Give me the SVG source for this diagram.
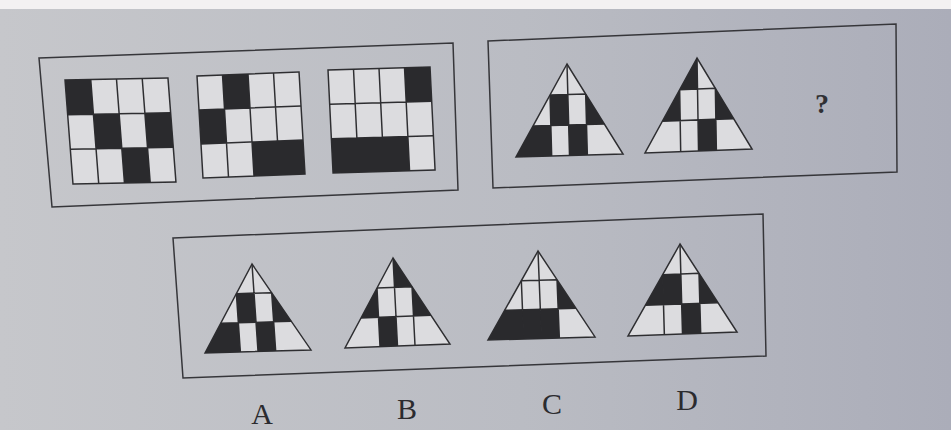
<svg xmlns="http://www.w3.org/2000/svg" xmlns:xlink="http://www.w3.org/1999/xlink" width="951" height="430" viewBox="0 0 951 430">
<style>
.frame{fill:none;stroke:#36363a;stroke-width:1.5;stroke-linejoin:miter}
.cell{fill:#dcdcdf}
.blk{fill:#2a2a2d}
.lines{fill:none;stroke:#2e2e31;stroke-width:1.5;stroke-linejoin:miter}
.lbl{font-family:"Liberation Serif","Times New Roman",serif;font-size:30px;fill:#2b2b2f;text-anchor:middle}
.q{font-family:"Liberation Serif","Times New Roman",serif;font-size:28px;fill:#303034;text-anchor:middle;font-weight:bold}
</style>
<defs>
<linearGradient id="bg" x1="0" y1="0" x2="1" y2="0">
<stop offset="0" stop-color="#c6c7cb"/>
<stop offset="0.55" stop-color="#babcc3"/>
<stop offset="1" stop-color="#abadb9"/>
</linearGradient>
<g id="gridLines" class="lines">
<rect x="0" y="0" width="104" height="105"/>
<path d="M26,0V105M52,0V105M78,0V105M0,35H104M0,70H104"/>
</g>
<polygon id="triBase" points="0,0 -54,90 54,90" class="cell"/>
<g id="triLines" class="lines">
<polygon points="0,0 -54,90 54,90"/>
<path d="M-18,30H18M-36,60H36M0,0V90M-18,30V90M18,30V90"/>
</g>
<polygon id="TL" points="0,0 -18,30 0,30"/>
<polygon id="TR" points="0,0 0,30 18,30"/>
<polygon id="MLO" points="-18,30 -36,60 -18,60"/>
<polygon id="ML" points="-18,30 0,30 0,60 -18,60"/>
<polygon id="MR" points="0,30 18,30 18,60 0,60"/>
<polygon id="MRO" points="18,30 18,60 36,60"/>
<polygon id="BLO" points="-36,60 -54,90 -18,90 -18,60"/>
<polygon id="BL" points="-18,60 0,60 0,90 -18,90"/>
<polygon id="BR" points="0,60 18,60 18,90 0,90"/>
<polygon id="BRO" points="18,60 18,90 54,90 36,60"/>
</defs>
<rect x="0" y="0" width="951" height="430" fill="url(#bg)"/>
<rect x="0" y="0" width="951" height="9" fill="#f3f1f2"/>

<g id="box-left">
<polygon class="frame" points="39,58 453,43 458,190 52,207"/>
</g>
<g id="box-right">
<polygon class="frame" points="488,41 896,24 897,172 493,188"/>
</g>
<g id="box-options">
<polygon class="frame" points="173,238 763,214 766,356 183,378"/>
</g>

<g id="grid-1" transform="matrix(0.990,-0.019,0.076,0.990,65,80)">
<rect x="0" y="0" width="104" height="105" class="cell"/>
<use xlink:href="#gridLines"/>
<rect class="blk" x="0" y="0" width="26" height="35"/>
<rect class="blk" x="26" y="35" width="26" height="35"/>
<rect class="blk" x="78" y="35" width="26" height="35"/>
<rect class="blk" x="52" y="70" width="26" height="35"/>
</g>
<g id="grid-2" transform="matrix(0.981,-0.038,0.057,0.971,197,76)">
<rect x="0" y="0" width="104" height="105" class="cell"/>
<use xlink:href="#gridLines"/>
<rect class="blk" x="26" y="0" width="26" height="35"/>
<rect class="blk" x="0" y="35" width="26" height="35"/>
<rect class="blk" x="52" y="70" width="52" height="35"/>
</g>
<g id="grid-3" transform="matrix(0.981,-0.029,0.048,0.981,328,70)">
<rect x="0" y="0" width="104" height="105" class="cell"/>
<use xlink:href="#gridLines"/>
<rect class="blk" x="78" y="0" width="26" height="35"/>
<rect class="blk" x="0" y="70" width="78" height="35"/>
</g>

<g id="tri-q1" transform="matrix(0.991,-0.028,0.028,1.017,567,64)">
<use xlink:href="#triBase"/>
<use xlink:href="#triLines"/>
<use xlink:href="#ML" class="blk"/><use xlink:href="#MRO" class="blk"/><use xlink:href="#BLO" class="blk"/><use xlink:href="#BR" class="blk"/>
</g>
<g id="tri-q2" transform="matrix(0.991,-0.037,0.017,1.033,697,58)">
<use xlink:href="#triBase"/>
<use xlink:href="#triLines"/>
<use xlink:href="#TL" class="blk"/><use xlink:href="#MLO" class="blk"/><use xlink:href="#MRO" class="blk"/><use xlink:href="#BR" class="blk"/>
</g>
<g id="question">
<text class="q" x="822" y="113">?</text>
</g>

<g id="tri-A" transform="matrix(0.981,-0.028,0.067,0.972,252,264)">
<use xlink:href="#triBase"/>
<use xlink:href="#triLines"/>
<use xlink:href="#ML" class="blk"/><use xlink:href="#MRO" class="blk"/><use xlink:href="#BLO" class="blk"/><use xlink:href="#BR" class="blk"/>
</g>
<g id="tri-B" transform="matrix(0.972,-0.037,0.05,0.978,393,258)">
<use xlink:href="#triBase"/>
<use xlink:href="#triLines"/>
<use xlink:href="#TR" class="blk"/><use xlink:href="#MLO" class="blk"/><use xlink:href="#MRO" class="blk"/><use xlink:href="#BL" class="blk"/>
</g>
<g id="tri-C" transform="matrix(0.991,-0.028,0.039,0.972,538,251)">
<use xlink:href="#triBase"/>
<use xlink:href="#triLines"/>
<use xlink:href="#MRO" class="blk"/><use xlink:href="#BLO" class="blk"/><use xlink:href="#BL" class="blk"/><use xlink:href="#BR" class="blk"/>
</g>
<g id="tri-D" transform="matrix(1.009,-0.037,0.028,1.0,680,244)">
<use xlink:href="#triBase"/>
<use xlink:href="#triLines"/>
<use xlink:href="#MLO" class="blk"/><use xlink:href="#ML" class="blk"/><use xlink:href="#MRO" class="blk"/><use xlink:href="#BR" class="blk"/>
</g>

<g id="labels">
<text class="lbl" x="262" y="424">A</text>
<text class="lbl" x="407" y="419">B</text>
<text class="lbl" x="552" y="414">C</text>
<text class="lbl" x="687" y="410">D</text>
</g>
<g id="connectors"/>
</svg>
